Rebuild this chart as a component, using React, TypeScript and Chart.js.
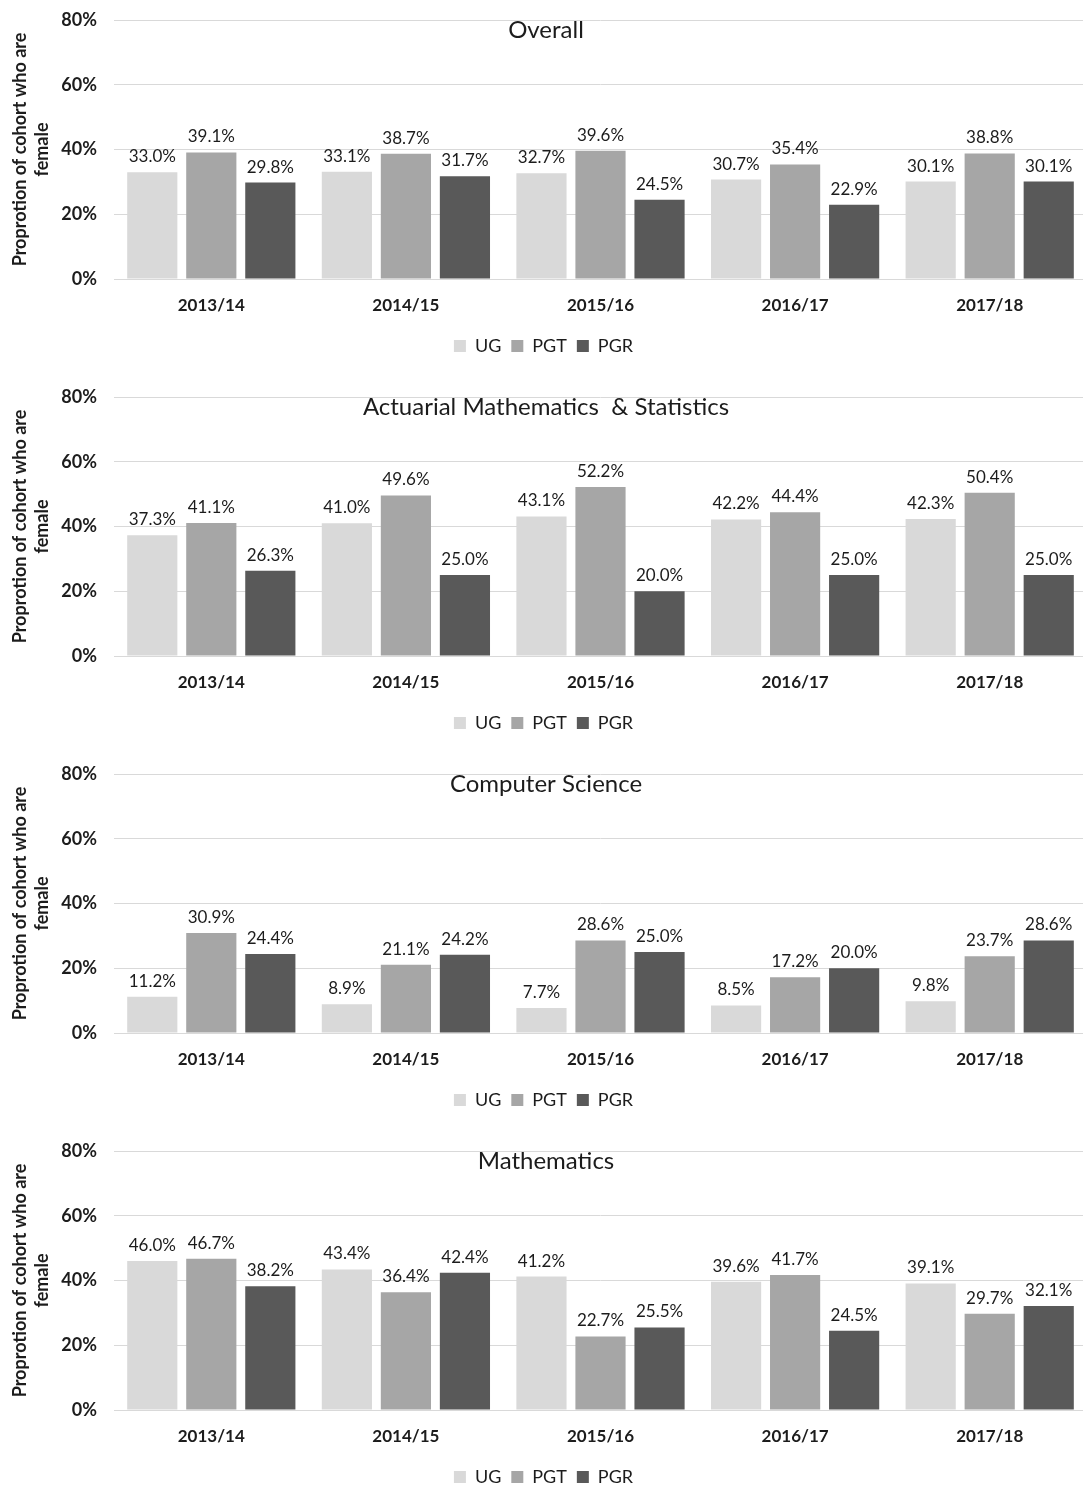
import React, { useEffect, useRef } from "react";
import { Chart, registerables } from "chart.js";

Chart.register(...registerables);

const categories = ["2013/14", "2014/15", "2015/16", "2016/17", "2017/18"];
const seriesNames = ["UG", "PGT", "PGR"];
const seriesColors = ["#d9d9d9", "#a6a6a6", "#595959"];
const yTicks = [0, 20, 40, 60, 80];

const overallUG = [33.0, 33.1, 32.7, 30.7, 30.1];
const overallPGT = [39.1, 38.7, 39.6, 35.4, 38.8];
const overallPGR = [29.8, 31.7, 24.5, 22.9, 30.1];

const actuarialUG = [37.3, 41.0, 43.1, 42.2, 42.3];
const actuarialPGT = [41.1, 49.6, 52.2, 44.4, 50.4];
const actuarialPGR = [26.3, 25.0, 20.0, 25.0, 25.0];

const csUG = [11.2, 8.9, 7.7, 8.5, 9.8];
const csPGT = [30.9, 21.1, 28.6, 17.2, 23.7];
const csPGR = [24.4, 24.2, 25.0, 20.0, 28.6];

const mathsUG = [46.0, 43.4, 41.2, 39.6, 39.1];
const mathsPGT = [46.7, 36.4, 22.7, 41.7, 29.7];
const mathsPGR = [38.2, 42.4, 25.5, 24.5, 32.1];

const panels = [
  { title: "Overall", values: [overallUG, overallPGT, overallPGR] },
  { title: "Actuarial Mathematics  & Statistics", values: [actuarialUG, actuarialPGT, actuarialPGR] },
  { title: "Computer Science", values: [csUG, csPGT, csPGR] },
  { title: "Mathematics", values: [mathsUG, mathsPGT, mathsPGR] },
];

const FONT = "Lato, 'Open Sans', sans-serif";
const TEXT = "#1c1c1c";

const valueLabels = {
  id: "valueLabels",
  afterDatasetsDraw(chart: any) {
    const ctx = chart.ctx;
    ctx.save();
    ctx.font = `17px ${FONT}`;
    ctx.fillStyle = TEXT;
    ctx.textAlign = "center";
    ctx.textBaseline = "bottom";
    chart.data.datasets.forEach((ds: any, i: number) => {
      const meta = chart.getDatasetMeta(i);
      meta.data.forEach((el: any, j: number) => {
        ctx.fillText(`${Number(ds.data[j]).toFixed(1)}%`, el.x, el.y - 7);
      });
    });
    ctx.restore();
  },
};

const innerTitle = {
  id: "innerTitle",
  afterDraw(chart: any, _args: any, opts: any) {
    const ctx = chart.ctx;
    ctx.save();
    ctx.font = `24px ${FONT}`;
    ctx.fillStyle = TEXT;
    ctx.textAlign = "center";
    ctx.textBaseline = "middle";
    ctx.fillText(opts.text, 546, chart.chartArea.top + 10);
    ctx.restore();
  },
};

function Panel({ title, values }: { title: string; values: number[][] }) {
  const ref = useRef<HTMLCanvasElement>(null);
  useEffect(() => {
    if (!ref.current) return;
    const chart = new Chart(ref.current, {
      type: "bar",
      data: {
        labels: categories,
        datasets: seriesNames.map((name, i) => ({
          label: name,
          data: values[i],
          backgroundColor: seriesColors[i],
          borderWidth: 0,
          categoryPercentage: 0.91,
          barPercentage: 0.85,
        })),
      },
      options: {
        animation: false,
        responsive: true,
        maintainAspectRatio: false,
        layout: { padding: { top: 12, bottom: 20, left: 0, right: 0 } },
        plugins: {
          legend: {
            position: "bottom",
            labels: {
              boxWidth: 12,
              boxHeight: 12,
              padding: 10,
              color: TEXT,
              font: { family: FONT, size: 18 },
            },
          },
          tooltip: { enabled: false },
          innerTitle: { text: title },
        } as any,
        scales: {
          x: {
            grid: { display: false, drawTicks: false },
            border: { color: "#d9d9d9", width: 1 },
            ticks: {
              color: TEXT,
              padding: 16,
              font: { family: FONT, size: 17, weight: "bold" },
            },
            afterFit: (s: any) => {
              s.height = 48;
              s.paddingLeft = 0;
              s.paddingRight = 0;
            },
          },
          y: {
            min: 0,
            max: 80,
            afterBuildTicks: (s: any) => {
              s.ticks = yTicks.map((v) => ({ value: v }));
            },
            grid: { color: "#d9d9d9", drawTicks: false, lineWidth: 1 },
            border: { display: false },
            ticks: {
              color: TEXT,
              padding: 17,
              font: { family: FONT, size: 18, weight: "bold" },
              callback: (v: any) => `${v}%`,
            },
            title: {
              display: true,
              text: ["Proprotion of cohort who are", "female"],
              color: TEXT,
              font: { family: FONT, size: 18, weight: "bold", lineHeight: 1.22 },
              padding: { top: 9, bottom: 0 },
            },
            afterFit: (s: any) => {
              s.width = 114;
              s.paddingTop = 0;
              s.paddingBottom = 0;
            },
          },
        },
      },
      plugins: [valueLabels, innerTitle],
    });
    return () => chart.destroy();
  }, [title, values]);
  return (
    <div style={{ position: "relative", width: 1087, height: 377 }}>
      <canvas ref={ref} />
    </div>
  );
}

export default function App() {
  return (
    <div
      style={{
        position: "absolute",
        left: 0,
        top: 0,
        width: 1083,
        paddingTop: 8,
        overflow: "hidden",
        background: "#fff",
      }}
    >
      {panels.map((p) => (
        <Panel key={p.title} title={p.title} values={p.values} />
      ))}
    </div>
  );
}
